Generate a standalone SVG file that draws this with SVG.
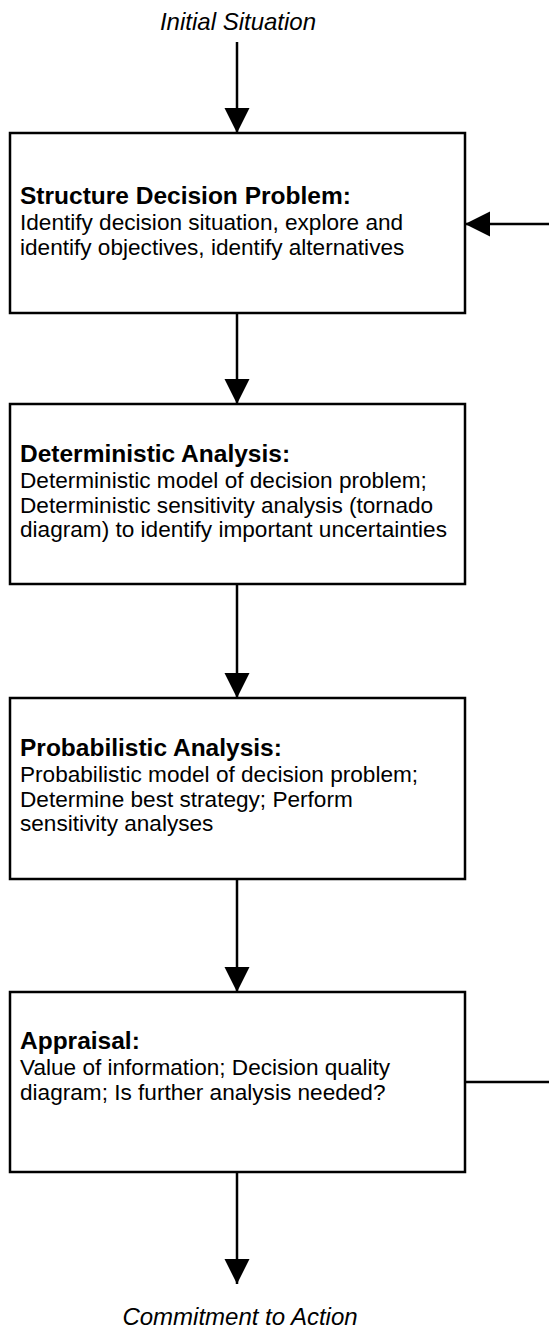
<svg xmlns="http://www.w3.org/2000/svg" width="549" height="1332" viewBox="0 0 549 1332">
  <style>
    .box { fill: #ffffff; stroke: #000000; stroke-width: 2.5; }
    .edge { fill: none; stroke: #000000; stroke-width: 2.5; }
    .txt { font-family: "Liberation Sans", Arial, sans-serif; font-size: 22.6px; fill: #000000; }
    .head { font-weight: bold; font-size: 24.5px; }
    .term { font-family: "Liberation Sans", Arial, sans-serif; font-size: 24px; font-style: italic; fill: #000000; text-anchor: middle; }
  </style>
  <defs>
    <marker id="arrow" markerUnits="userSpaceOnUse" markerWidth="26" markerHeight="26" viewBox="0 0 26 26" refX="25" refY="13" orient="auto">
      <path d="M0,0.5 L25,13 L0,25.5 Z" fill="#000000"/>
    </marker>
  </defs>

  <rect width="549" height="1332" fill="#ffffff"/>

  <!-- start / end labels -->
  <g id="start">
    <text class="term" x="238" y="30">Initial Situation</text>
  </g>
  <g id="end">
    <text class="term" x="240" y="1325">Commitment to Action</text>
  </g>

  <!-- connectors -->
  <g id="connectors">
    <line class="edge" x1="237" y1="42" x2="237" y2="133" marker-end="url(#arrow)"/>
    <line class="edge" x1="237" y1="313" x2="237" y2="404" marker-end="url(#arrow)"/>
    <line class="edge" x1="237" y1="584" x2="237" y2="698" marker-end="url(#arrow)"/>
    <line class="edge" x1="237" y1="879" x2="237" y2="992" marker-end="url(#arrow)"/>
    <line class="edge" x1="237" y1="1172" x2="237" y2="1284" marker-end="url(#arrow)"/>
    <!-- feedback loop: appraisal back to structuring -->
    <line class="edge" x1="465" y1="1082" x2="551" y2="1082"/>
    <line class="edge" x1="551" y1="224" x2="465" y2="224" marker-end="url(#arrow)"/>
  </g>

  <g id="structure">
    <rect class="box" x="10" y="133" width="455" height="180"/>
    <text class="txt head" x="20" y="204">Structure Decision Problem:</text>
    <text class="txt" x="20" y="230">Identify decision situation, explore and</text>
    <text class="txt" x="20" y="254.5">identify objectives, identify alternatives</text>
  </g>

  <g id="deterministic">
    <rect class="box" x="10" y="404" width="455" height="180"/>
    <text class="txt head" x="20" y="462">Deterministic Analysis:</text>
    <text class="txt" x="20" y="488">Deterministic model of decision problem;</text>
    <text class="txt" x="20" y="512.5">Deterministic sensitivity analysis (tornado</text>
    <text class="txt" x="20" y="537">diagram) to identify important uncertainties</text>
  </g>

  <g id="probabilistic">
    <rect class="box" x="10" y="698" width="455" height="181"/>
    <text class="txt head" x="20" y="756">Probabilistic Analysis:</text>
    <text class="txt" x="20" y="782">Probabilistic model of decision problem;</text>
    <text class="txt" x="20" y="806.5">Determine best strategy; Perform</text>
    <text class="txt" x="20" y="831">sensitivity analyses</text>
  </g>

  <g id="appraisal">
    <rect class="box" x="10" y="992" width="455" height="180"/>
    <text class="txt head" x="20" y="1049">Appraisal:</text>
    <text class="txt" x="20" y="1075">Value of information; Decision quality</text>
    <text class="txt" x="20" y="1099.5">diagram; Is further analysis needed?</text>
  </g>
</svg>
